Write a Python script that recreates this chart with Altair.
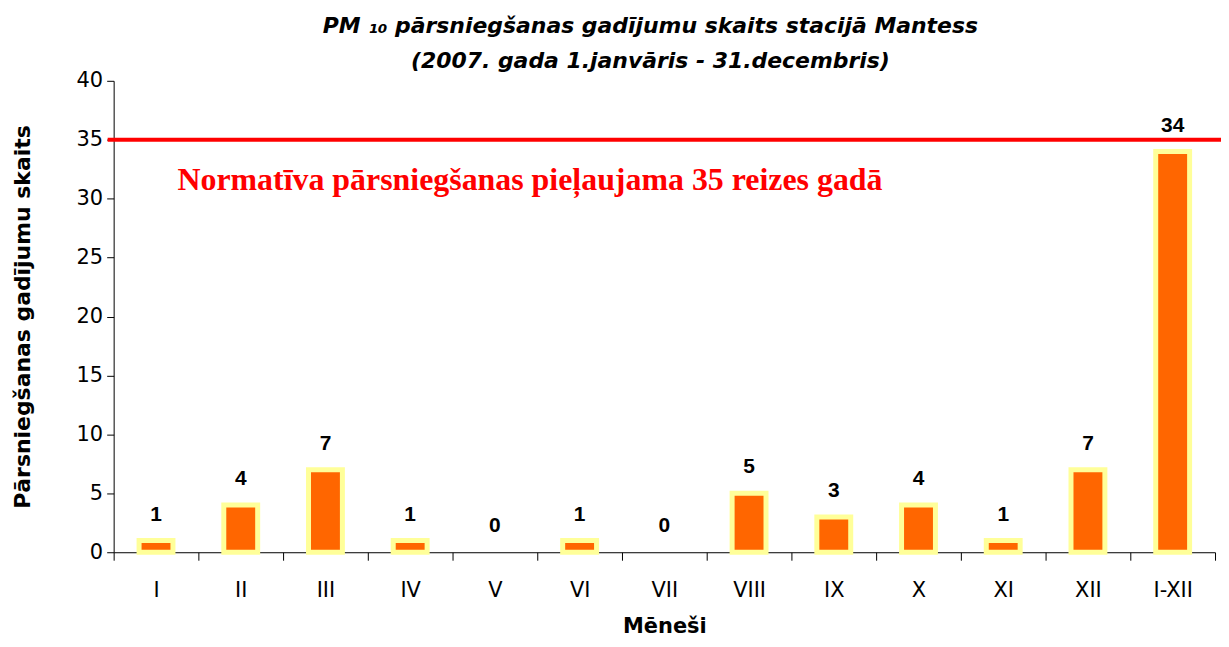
import altair as alt
import pandas as pd

months = ["I", "II", "III", "IV", "V", "VI", "VII", "VIII", "IX", "X", "XI", "XII", "I-XII"]
counts = [1, 4, 7, 1, 0, 1, 0, 5, 3, 4, 1, 7, 34]
limit = 35
limit_text = "Normatīva pārsniegšanas pieļaujama 35 reizes gadā"

df = pd.DataFrame({"month": months, "count": counts})

W, H = 1105, 473

x_enc = alt.X("month:N", sort=months, title="Mēneši",
              scale=alt.Scale(paddingInner=0, paddingOuter=0),
              axis=alt.Axis(labelAngle=0, tickBand="extent", tickSize=8, tickColor="black",
                            domainColor="black", labelFont="DejaVu Sans", labelFontSize=21,
                            labelColor="black", labelPadding=19, titleFont="DejaVu Sans",
                            titleFontSize=21, titleFontWeight="bold", titleColor="black",
                            titlePadding=16))
y_scale = alt.Scale(domain=[0, 40], nice=False)

bars = alt.Chart(df).transform_filter("datum.count > 0").mark_bar(
    color="#FF6600", stroke="#FFFF99", strokeWidth=5, size=34).encode(
    x=x_enc,
    y=alt.Y("count:Q", scale=y_scale, title="Pārsniegšanas gadījumu skaits",
            axis=alt.Axis(values=list(range(0, 41, 5)), grid=False, tickSize=7, tickColor="black",
                          domainColor="black", labelFont="DejaVu Sans", labelFontSize=21,
                          labelColor="black", labelPadding=4, titleFont="DejaVu Sans",
                          titleFontSize=22, titleFontWeight="bold", titleColor="black",
                          titlePadding=42)),
)

labels = alt.Chart(df).mark_text(font="Liberation Sans", fontSize=21, fontWeight="bold",
                                 color="black", baseline="middle", dy=-26).encode(
    x=alt.X("month:N", sort=months),
    y=alt.Y("count:Q", scale=y_scale),
    text="count:Q",
)

rule = alt.Chart(pd.DataFrame({"limit": [limit]})).mark_rule(color="#FF0000", strokeWidth=4).encode(
    y=alt.Y("limit:Q", scale=y_scale),
    x=alt.value(-6),
    x2=alt.value(W + 10),
)

note = alt.Chart(pd.DataFrame({"t": [limit_text], "yv": [30.7]})).mark_text(
    font="Liberation Serif", fontSize=32, fontWeight="bold", color="#FF0000",
    align="left", baseline="alphabetic").encode(
    x=alt.value(64),
    y=alt.Y("yv:Q", scale=y_scale),
    text="t:N",
)

chart = alt.layer(bars, rule, labels, note).properties(
    width=W, height=H,
    autosize=alt.AutoSizeParams(type="none"),
    padding={"left": 106, "top": 72, "right": 6, "bottom": 86},
    title=alt.TitleParams(
        ["PM ₁₀ pārsniegšanas gadījumu skaits stacijā Mantess",
         "(2007. gada 1.janvāris - 31.decembris)"],
        font="DejaVu Sans", fontSize=22, fontStyle="oblique", fontWeight="bold",
        color="black", lineHeight=35, offset=-3, dx=-14, anchor="middle"),
).configure_view(stroke=None)

chart.save("out.html", embed_options={"renderer": "svg", "actions": False})
